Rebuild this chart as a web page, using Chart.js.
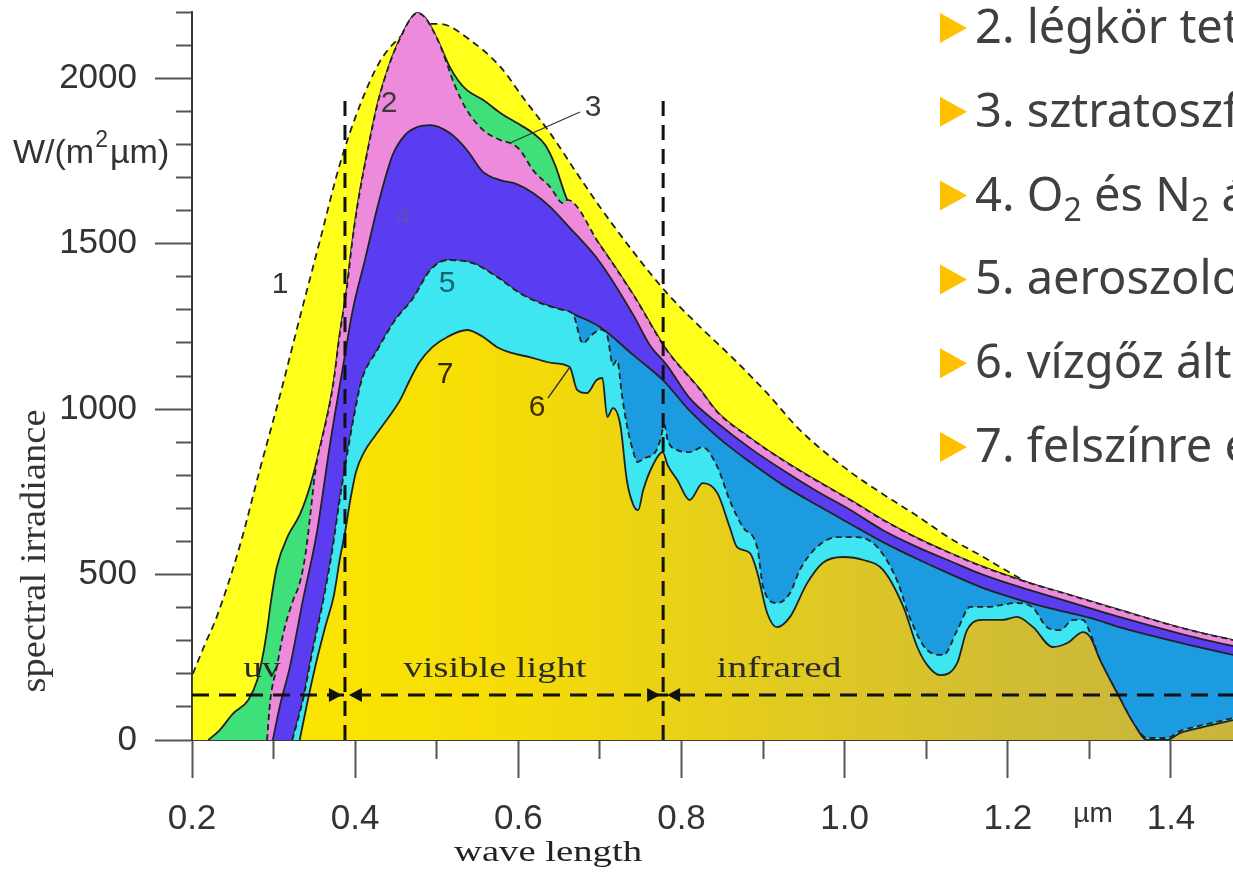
<!DOCTYPE html>
<html>
<head>
<meta charset="utf-8">
<script src="https://cdn.jsdelivr.net/npm/chart.js@4.4.1/dist/chart.umd.min.js"></script>
<style>
  html, body { margin: 0; padding: 0; background: #fff; overflow: hidden; }
  #wrap { width: 1233px; height: 872px; }
</style>
</head>
<body>
<div id="wrap"><canvas id="c" width="1233" height="872"></canvas></div>
<script>
// ── DATA: [wavelength µm, spectral irradiance W/(m²µm)] ──
// 1: black body envelope (dashed)
const curve1 = [[0.201,200],[0.216,290],[0.230,370],[0.259,590],[0.283,816],[0.308,1043],[0.332,1275],[0.357,1511],[0.381,1738],[0.406,1919],[0.430,2049],[0.455,2124],[0.479,2164],[0.504,2164],[0.541,2115],[0.578,2034],[0.608,1934],[0.639,1834],[0.669,1723],[0.700,1611],[0.741,1475],[0.782,1351],[0.823,1248],[0.863,1154],[0.905,1048],[0.945,937],[1.007,810],[1.047,743],[1.089,677],[1.129,610],[1.170,553],[1.203,505],[1.252,441],[1.313,396],[1.374,354],[1.476,299]];
// 2: top of atmosphere
const curve2 = [[0.220,0],[0.234,30],[0.250,79],[0.269,121],[0.280,181],[0.287,257],[0.292,332],[0.297,423],[0.304,523],[0.318,619],[0.332,680],[0.345,770],[0.359,907],[0.373,1073],[0.381,1224],[0.390,1369],[0.396,1496],[0.403,1617],[0.415,1777],[0.428,1928],[0.443,2049],[0.457,2130],[0.467,2176],[0.476,2197],[0.486,2182],[0.495,2146],[0.504,2100],[0.516,2034],[0.526,1994],[0.537,1964],[0.557,1934],[0.578,1895],[0.598,1865],[0.618,1834],[0.633,1798],[0.645,1738],[0.660,1632],[0.700,1496],[0.741,1345],[0.782,1178],[0.823,1058],[0.844,991],[0.884,913],[0.924,846],[0.966,783],[1.007,725],[1.047,665],[1.089,610],[1.129,565],[1.170,523],[1.227,474],[1.260,450],[1.341,390],[1.423,332],[1.476,302]];
// 3: after stratospheric ozone
const curve3 = [[0.292,0],[0.296,121],[0.304,221],[0.312,323],[0.324,423],[0.332,474],[0.339,560],[0.345,680],[0.350,790],[0.354,855],[0.359,905],[0.373,1073],[0.381,1224],[0.390,1369],[0.396,1496],[0.403,1617],[0.415,1777],[0.428,1928],[0.443,2049],[0.457,2130],[0.467,2176],[0.476,2197],[0.486,2182],[0.495,2146],[0.504,2100],[0.513,2040],[0.522,1979],[0.537,1903],[0.557,1843],[0.578,1813],[0.590,1804],[0.602,1783],[0.618,1722],[0.639,1671],[0.655,1622],[0.660,1632],[0.700,1496],[0.741,1345],[0.782,1178],[0.823,1058],[0.844,991],[0.884,913],[0.924,846],[0.966,783],[1.007,725],[1.047,665],[1.089,610],[1.129,565],[1.170,523],[1.227,474],[1.260,450],[1.341,390],[1.423,332],[1.476,302]];
// 4: after O2 / N2
const curve4 = [[0.299,0],[0.308,106],[0.320,221],[0.336,423],[0.353,626],[0.369,891],[0.385,1127],[0.397,1299],[0.412,1451],[0.428,1617],[0.446,1768],[0.461,1828],[0.476,1852],[0.492,1858],[0.516,1834],[0.537,1783],[0.557,1716],[0.578,1692],[0.598,1680],[0.618,1653],[0.639,1611],[0.660,1556],[0.700,1444],[0.741,1284],[0.761,1194],[0.782,1133],[0.810,1033],[0.844,958],[0.884,882],[0.924,816],[0.966,752],[1.007,695],[1.047,634],[1.089,583],[1.129,541],[1.170,499],[1.227,453],[1.260,429],[1.341,369],[1.423,314],[1.476,284]];
// 5: after aerosols
const curve5 = [[0.323,0],[0.329,54],[0.336,121],[0.348,272],[0.361,423],[0.372,574],[0.381,725],[0.390,861],[0.400,997],[0.408,1088],[0.427,1178],[0.449,1269],[0.471,1335],[0.492,1420],[0.513,1450],[0.544,1441],[0.574,1399],[0.602,1350],[0.627,1320],[0.655,1299],[0.676,1278],[0.700,1248],[0.741,1163],[0.777,1088],[0.810,995],[0.844,916],[0.884,840],[0.924,771],[0.966,710],[1.007,653],[1.047,598],[1.089,547],[1.129,502],[1.170,459],[1.215,423],[1.260,393],[1.301,369],[1.341,338],[1.383,311],[1.423,287],[1.476,257]];
// 6: after water vapour (dashed)
const curve6 = [[0.323,0],[0.329,54],[0.336,121],[0.348,272],[0.361,423],[0.372,574],[0.381,725],[0.390,861],[0.400,997],[0.408,1088],[0.427,1178],[0.449,1269],[0.471,1335],[0.492,1420],[0.513,1450],[0.544,1441],[0.574,1399],[0.602,1350],[0.627,1320],[0.655,1299],[0.667,1287],[0.679,1199],[0.690,1224],[0.701,1240],[0.709,1222],[0.716,1133],[0.721,1148],[0.727,1042],[0.733,952],[0.741,870],[0.746,840],[0.755,852],[0.768,870],[0.774,906],[0.779,952],[0.783,906],[0.795,876],[0.810,870],[0.826,885],[0.844,825],[0.859,725],[0.875,644],[0.893,580],[0.900,462],[0.917,414],[0.933,444],[0.945,514],[0.966,583],[0.991,613],[1.015,613],[1.040,583],[1.064,483],[1.080,369],[1.101,272],[1.121,257],[1.138,332],[1.154,402],[1.175,402],[1.211,414],[1.231,399],[1.248,341],[1.264,332],[1.280,363],[1.292,363],[1.301,323],[1.313,242],[1.334,142],[1.354,51],[1.371,6],[1.395,6],[1.411,27],[1.439,45],[1.476,66]];
// 7: reaching the surface
const curve7 = [[0.332,0],[0.342,121],[0.353,242],[0.364,348],[0.374,438],[0.381,544],[0.388,634],[0.394,725],[0.401,810],[0.411,870],[0.424,918],[0.443,982],[0.455,1027],[0.467,1088],[0.479,1142],[0.495,1188],[0.513,1218],[0.537,1239],[0.557,1218],[0.574,1187],[0.593,1169],[0.614,1157],[0.643,1139],[0.663,1127],[0.672,1058],[0.684,1048],[0.696,1088],[0.703,1094],[0.709,976],[0.716,1003],[0.725,952],[0.733,785],[0.741,710],[0.747,695],[0.753,755],[0.765,831],[0.777,870],[0.783,831],[0.795,785],[0.810,725],[0.826,776],[0.844,746],[0.859,644],[0.868,583],[0.884,565],[0.893,505],[0.905,384],[0.917,341],[0.933,372],[0.954,474],[0.973,535],[0.998,553],[1.023,544],[1.047,514],[1.072,402],[1.089,281],[1.101,227],[1.117,196],[1.138,233],[1.150,332],[1.170,363],[1.194,363],[1.211,372],[1.231,341],[1.255,281],[1.273,293],[1.292,326],[1.301,311],[1.313,242],[1.334,142],[1.354,51],[1.371,0],[1.395,0],[1.411,21],[1.439,39],[1.476,60]];

// band borders (uv | visible | infrared) and the arrow line
const bandEdges = [0.3875, 0.7775];
const bandTop = 1935;
const arrowLevel = 136;

const xMajor = [0.2, 0.4, 0.6, 0.8, 1.0, 1.2, 1.4];
const yMajor = [0, 500, 1000, 1500, 2000];

const legendItems = [
  '2. légkör tetején',
  '3. sztratoszférikus ózon',
  '4. O_2 és N_2 általi szórás',
  '5. aeroszolok általi szórás',
  '6. vízgőz általi elnyelés',
  '7. felszínre érkező sugárzás'
];

// ── STYLE ──
const SANS = '"Liberation Sans", Arial, sans-serif';
const SERIF = '"Liberation Serif", "Times New Roman", serif';
const LINE = '#222';

const pts = a => a.map(([x, y]) => ({ x, y }));
const isMajor = (v, list) => list.some(m => Math.abs(m - v) < 1e-6);

function goldFill(ctx) {
  const a = ctx.chart.chartArea;
  if (!a) return '#EED812';
  const g = ctx.chart.ctx.createLinearGradient(a.left, 0, a.right, 0);
  g.addColorStop(0, '#FFE900');
  g.addColorStop(0.3, '#F6DC06');
  g.addColorStop(0.55, '#E3CC1E');
  g.addColorStop(0.8, '#D0BC34');
  g.addColorStop(1, '#C9B53C');
  return g;
}

const layer = (data, bg, dash, order) => ({
  data: pts(data), order, fill: 'origin', backgroundColor: bg,
  borderColor: LINE, borderWidth: 1.8, borderDash: dash,
  pointRadius: 0, cubicInterpolationMode: 'monotone'
});

const guide = (data, dash) => ({
  data: pts(data), order: 1, fill: false, borderColor: '#111',
  borderWidth: 3, borderDash: dash, pointRadius: 0
});

// ── TEXT / ARROWS ──
function fitText(ctx, text, cx, base, font, w, color) {
  ctx.save();
  ctx.font = font;
  const m = ctx.measureText(text).width;
  ctx.translate(cx, base);
  ctx.scale(w / m, 1);
  ctx.fillStyle = color;
  ctx.textAlign = 'center';
  ctx.textBaseline = 'alphabetic';
  ctx.fillText(text, 0, 0);
  ctx.restore();
}

const annotations = {
  id: 'annotations',
  afterDatasetsDraw(chart) {
    const { ctx, scales: { x, y } } = chart;
    ctx.save();
    // arrow heads on the band line
    ctx.fillStyle = '#111';
    const ay = y.getPixelForValue(arrowLevel);
    bandEdges.forEach(e => {
      const px = x.getPixelForValue(e);
      ctx.beginPath();
      ctx.moveTo(px - 3, ay); ctx.lineTo(px - 16, ay - 7); ctx.lineTo(px - 16, ay + 7); ctx.closePath(); ctx.fill();
      ctx.beginPath();
      ctx.moveTo(px + 4, ay); ctx.lineTo(px + 17, ay - 7); ctx.lineTo(px + 17, ay + 7); ctx.closePath(); ctx.fill();
    });
    // curve numbers
    ctx.font = '30px ' + SANS;
    ctx.textAlign = 'center';
    ctx.textBaseline = 'middle';
    [['1', 280, 285, '#333'], ['2', 389, 104, '#3a3a3a'], ['3', 593, 108, '#3a3a3a'],
     ['4', 403, 218, '#5a4cc4'], ['5', 447, 284, '#14646e'], ['6', 537, 408, '#3a3000'],
     ['7', 445, 375, '#2e2600']].forEach(([t, px, py, c]) => { ctx.fillStyle = c; ctx.fillText(t, px, py); });
    ctx.strokeStyle = '#333';
    ctx.lineWidth = 1.3;
    ctx.beginPath();
    ctx.moveTo(580, 112); ctx.lineTo(510, 143);
    ctx.moveTo(548, 398); ctx.lineTo(570, 367);
    ctx.stroke();
    // band names
    fitText(ctx, 'uv', 262, 677, '30px ' + SERIF, 37, '#2a2a2a');
    fitText(ctx, 'visible light', 495, 677, '30px ' + SERIF, 183, '#2a2a2a');
    fitText(ctx, 'infrared', 779, 677, '30px ' + SERIF, 125, '#2a2a2a');
    ctx.restore();
  },
  afterDraw(chart) {
    const { ctx } = chart;
    ctx.save();
    // axis titles
    fitText(ctx, 'wave length', 548, 861, '30px ' + SERIF, 188, '#222');
    ctx.save();
    ctx.translate(45, 551);
    ctx.rotate(-Math.PI / 2);
    fitText(ctx, 'spectral irradiance', 0, 0, '36px ' + SERIF, 283, '#333');
    ctx.restore();
    ctx.fillStyle = '#333';
    ctx.textAlign = 'left';
    ctx.textBaseline = 'alphabetic';
    ctx.font = '34px ' + SANS;
    ctx.fillText('W/(m', 13, 163);
    let wx = 13 + ctx.measureText('W/(m').width + 1;
    ctx.font = '23px ' + SANS;
    ctx.fillText('2', wx, 147);
    wx += ctx.measureText('2').width + 2;
    ctx.font = '34px ' + SANS;
    ctx.fillText('µm)', wx, 163);
    ctx.font = '28px ' + SANS;
    ctx.textAlign = 'center';
    ctx.fillText('µm', 1093, 822);
    // bullet list on the right
    legendItems.forEach((item, i) => {
      const base = 43 + i * 83.8;
      ctx.fillStyle = '#FFC000';
      ctx.beginPath();
      ctx.moveTo(940, base - 30); ctx.lineTo(967, base - 15); ctx.lineTo(940, base); ctx.closePath(); ctx.fill();
      ctx.fillStyle = '#404040';
      ctx.textAlign = 'left';
      let tx = 975;
      item.split(/(_\d)/).forEach(part => {
        if (!part) return;
        if (part[0] === '_') {
          ctx.font = '32px "Noto Sans", sans-serif';
          ctx.fillText(part.slice(1), tx, base + 10);
        } else {
          ctx.font = '47px "Noto Sans", sans-serif';
          ctx.fillText(part, tx, base);
        }
        tx += ctx.measureText(part[0] === '_' ? part.slice(1) : part).width;
      });
    });
    ctx.restore();
  }
};

// ── CHART ──
new Chart(document.getElementById('c'), {
  type: 'line',
  data: {
    datasets: [
      guide([[bandEdges[0], 0], [bandEdges[0], bandTop]], [15, 9]),
      guide([[bandEdges[1], 0], [bandEdges[1], bandTop]], [15, 9]),
      guide([[0.2, arrowLevel], [1.476, arrowLevel]], [17, 10]),
      layer(curve7, goldFill, [], 4),
      layer(curve6, '#3DE6F0', [6, 4], 5),
      layer(curve5, '#1C9BE0', [], 6),
      layer(curve4, '#5A3DF0', [], 7),
      layer(curve3, '#EE8ADC', [6, 4], 8),
      layer(curve2, '#3FE07A', [], 9),
      layer(curve1, '#FFFF1C', [7, 5], 10)
    ]
  },
  options: {
    responsive: false,
    animation: false,
    devicePixelRatio: 1,
    layout: { padding: { top: 12, right: 0, bottom: 0, left: 0 } },
    plugins: { legend: { display: false }, tooltip: { enabled: false } },
    scales: {
      x: {
        type: 'linear', min: 0.2, max: 1.476,
        border: { display: true, color: '#3a3a3a', width: 2 },
        grid: {
          drawOnChartArea: false, drawTicks: true, tickLength: 38, tickWidth: 2, tickColor: '#555',
          tickBorderDash: c => (c.tick && isMajor(c.tick.value, xMajor)) ? [] : [18, 100]
        },
        ticks: {
          stepSize: 0.1, includeBounds: false, autoSkip: false, maxRotation: 0, padding: 20,
          color: '#333', font: { family: SANS, size: 35 },
          callback: v => isMajor(v, xMajor) ? v.toFixed(1) : ''
        },
        afterFit: s => { s.height = 132; s.paddingLeft = 0; s.paddingRight = 0; }
      },
      y: {
        type: 'linear', min: 0, max: 2200,
        border: { display: true, color: '#3a3a3a', width: 2 },
        grid: {
          drawOnChartArea: false, drawTicks: true, tickLength: 37, tickWidth: 2, tickColor: '#555',
          tickBorderDash: c => (c.tick && isMajor(c.tick.value, yMajor)) ? [] : [0, 21, 16, 100]
        },
        ticks: {
          stepSize: 100, autoSkip: false, padding: 18,
          color: '#333', font: { family: SANS, size: 35 },
          callback: v => isMajor(v, yMajor) ? String(v) : ''
        },
        afterFit: s => { s.width = 192; s.paddingTop = 0; s.paddingBottom = 0; }
      }
    }
  },
  plugins: [annotations]
});
</script>
</body>
</html>
